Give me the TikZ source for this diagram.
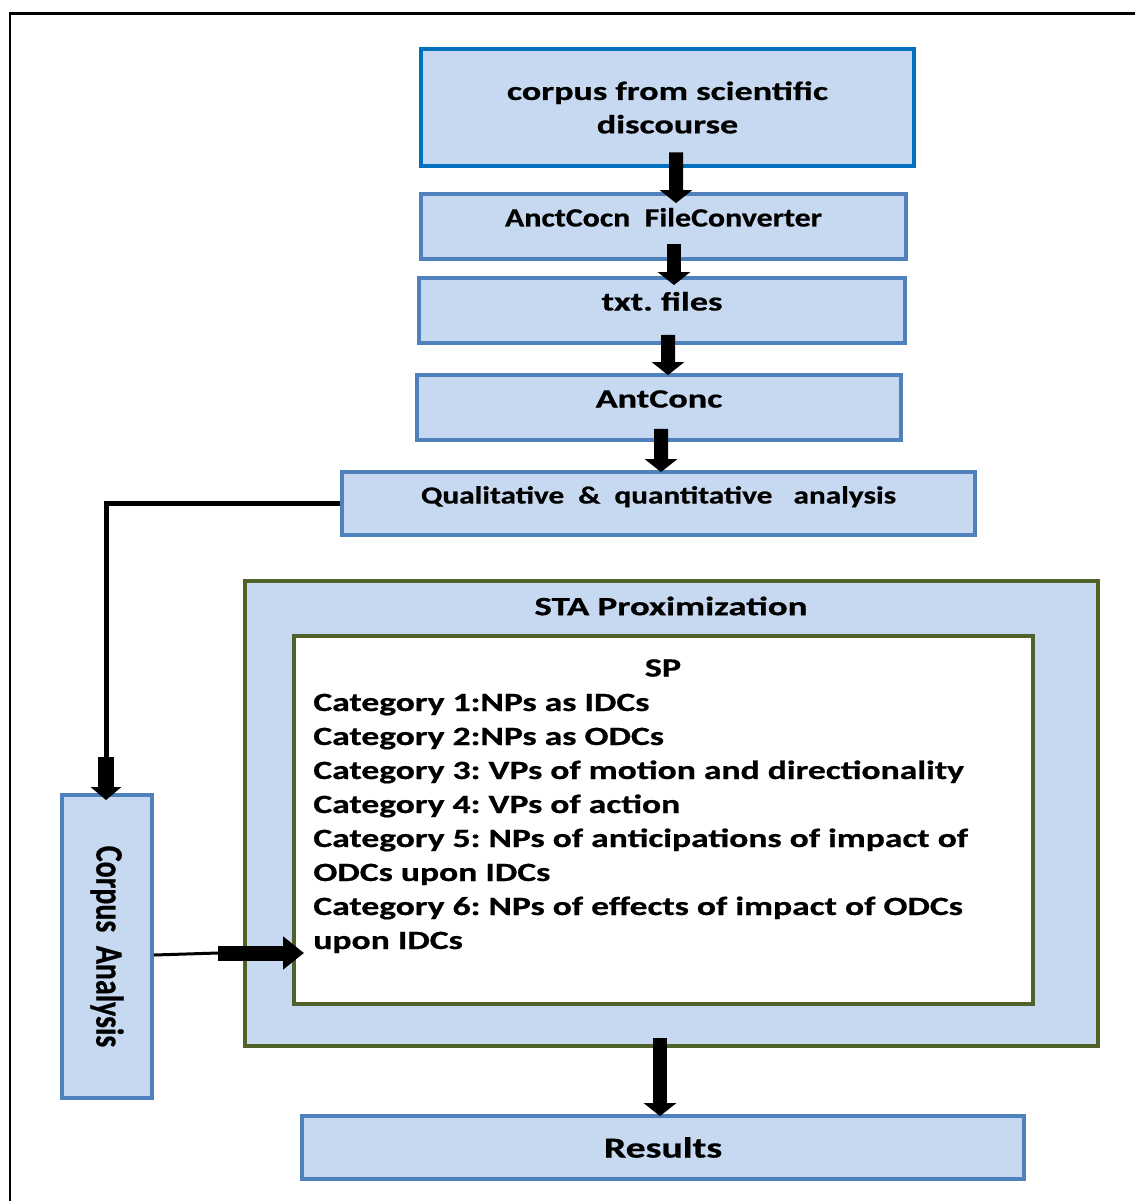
\documentclass[tikz,border=0pt]{standalone}
\usepackage{fontspec}
\setmainfont{Carlito}[BoldFeatures={FakeBold=0.6}]
\usepackage{graphicx}
\usepackage{tikz}
\usetikzlibrary{arrows.meta}
\definecolor{boxfill}{RGB}{198,217,240}
\definecolor{boxline}{RGB}{79,129,189}
\definecolor{topline}{RGB}{0,112,192}
\definecolor{olive}{RGB}{79,98,40}
\newcommand{\wide}[2][1.37]{\scalebox{#1}[1]{#2}}
\frenchspacing
\tikzset{box/.style={draw=boxline, fill=boxfill, line width=2.2pt,
  inner sep=0pt, font=\bfseries\fontsize{15}{19}\selectfont},
  onel/.style={text height=0.3cm, text depth=0.3cm}}

\begin{document}
\begin{tikzpicture}[big/.style={line width=0.28cm,
  -{Triangle[width=0.64cm, length=0.26cm]}},
  thinline/.style={line width=0.1cm},
  txt/.style={font=\bfseries\fontsize{15}{19}\selectfont, inner sep=0pt}]
  \useasboundingbox (0,0) rectangle (22.7,-24.02);
  \draw[line width=0.06cm] (0.2,-0.28) rectangle (23,-24.4);
  % boxes of the chain
  \node[box, draw=topline, line width=2.6pt, minimum width=9.86cm,
    minimum height=2.34cm, align=center] (corpus) at (13.35,-2.15)
    {\wide{corpus from scientific}\\\wide{discourse}};
  \node[box, onel, minimum width=9.7cm, minimum height=1.3cm] (conv)
    at (13.27,-4.53) {\wide[1.21]{AnctCocn\ \ FileConverter}};
  \node[box, onel, minimum width=9.72cm, minimum height=1.3cm] (files)
    at (13.24,-6.21) {\wide{txt. files}};
  \node[box, onel, minimum width=9.68cm, minimum height=1.3cm] (ant)
    at (13.18,-8.15) {\wide{AntConc}};
  \node[box, onel, minimum width=12.66cm, minimum height=1.26cm,
    font=\bfseries\fontsize{14}{18}\selectfont] (qual) at (13.17,-10.07)
    {\wide[1.27]{Qualitative\ \ \&\ \ quantitative\ \ \ analysis}};
  % proximization frame
  \node[box, draw=olive, minimum width=17.06cm, minimum height=9.3cm] (sta)
    at (13.43,-16.27) {};
  \node[txt] (statitle) at (13.42,-12.12) {\wide[1.4]{STA Proximization}};
  \node[box, draw=olive, fill=white, minimum width=14.78cm,
    minimum height=7.36cm] (sp) at (13.27,-16.4) {};
  \node[txt] (sptitle) at (13.26,-13.36) {\wide{SP}};
  \foreach \line [count=\i from 0] in {Category 1:NPs as IDCs,
      Category 2:NPs as ODCs,
      Category 3: VPs of motion and directionality,
      Category 4: VPs of action,
      Category 5: NPs of anticipations of impact of,
      ODCs upon IDCs,
      Category 6: NPs of effects of impact of ODCs,
      upon IDCs}
    \node[txt, anchor=base west] (cat\i) at (6.26,-14.22-0.68*\i)
      {\wide[1.35]{\line}};
  \node[box, minimum width=1.8cm, minimum height=6.06cm] (ca)
    at (2.14,-18.93) {};
  \node[txt, rotate=-90, font=\bfseries\fontsize{17}{20}\selectfont] (catext)
    at (ca.center) {\scalebox{1}[1.3]{Corpus\ \ Analysis}};
  \node[box, minimum width=14.44cm, minimum height=1.26cm,
    font=\bfseries\fontsize{16.5}{20}\selectfont] (res)
    at (13.26,-22.95) {\wide{Results}};
  % arrows
  \draw[big] ([shift={(0.17,0.32)}]corpus.south) -- ([shift={(0.25,-0.22)}]conv.north);
  \draw[big] ([shift={(0.21,0.34)}]conv.south) -- ([shift={(0.24,-0.18)}]files.north);
  \draw[big] ([shift={(0.12,0.2)}]files.south) -- ([shift={(0.18,-0.04)}]ant.north);
  \draw[big] ([shift={(0.04,0.26)}]ant.south) -- ([shift={(0.05,-0.04)}]qual.north);
  \draw[big] ([shift={(-0.23,0.2)}]sta.south) -- ([shift={(-0.06,-0.04)}]res.north);
  \coordinate (cbend) at (2.12,-15.14);
  \draw[thinline] (qual.west) -| (cbend);
  \draw[big, line width=0.32cm, -{Triangle[width=0.6cm, length=0.26cm]}]
    (cbend) -- ([shift={(-0.02,-0.14)}]ca.north);
  \coordinate (cmid) at (4.36,-19.06);
  \coordinate (ctip) at (6.08,-19.06);
  \draw[line width=0.06cm] ([yshift=-0.17cm]ca.east) -- (cmid);
  \draw[big, line width=0.3cm, -{Triangle[width=0.64cm, length=0.42cm]}]
    (cmid) -- (ctip);
\end{tikzpicture}
\end{document}
